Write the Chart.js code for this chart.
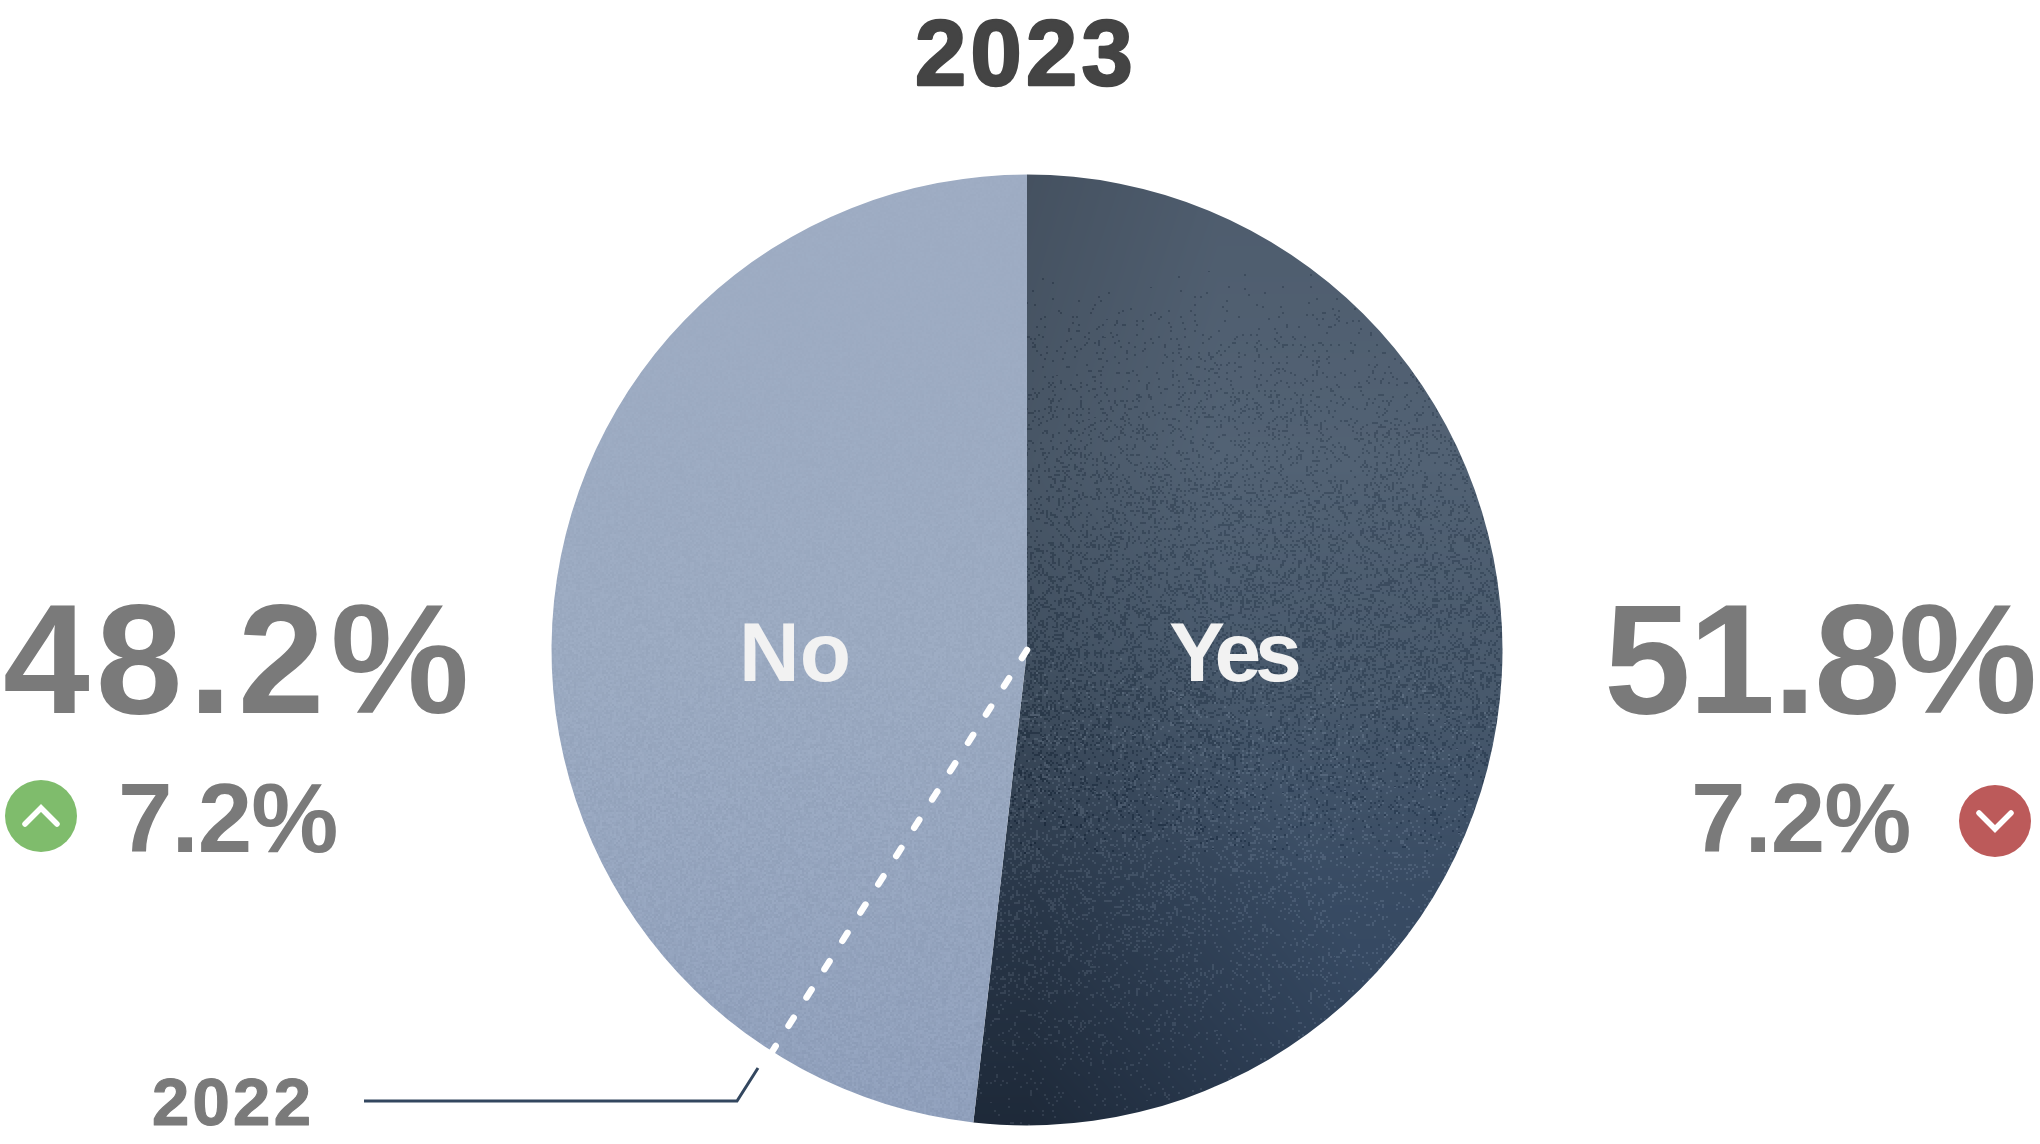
<!DOCTYPE html>
<html lang="en">
<head>
    <meta charset="UTF-8">
    <title>2023 vs 2022</title>
    <script src="https://cdn.jsdelivr.net/npm/chart.js"></script>
    <style>
        body { margin: 0; background: #fff; overflow: hidden; }
        canvas { display: block; }
    </style>
</head>
<body>
    <canvas id="pieChart" width="2040" height="1144"></canvas>

    <script>
        const categories = ["Yes", "No"];
        const values2023 = [51.8, 48.2];
        const yes2022 = 59.0;
        const titleYear = "2023";
        const previousYear = "2022";
        const valueLabels = ["51.8%", "48.2%"];
        const changeLabels = ["7.2%", "7.2%"];

        const FONT = '"Liberation Sans", Arial, sans-serif';
        const W = 2040, H = 1144;
        const TOP = 174.5, DIAM = 951;

        // small repeatable hash, only used for the paper grain of the slices
        function grain(x, y) {
            let n = Math.imul(x, 374761393) + Math.imul(y, 668265263);
            n = Math.imul(n ^ (n >>> 13), 1274126177);
            return ((n ^ (n >>> 16)) >>> 0) / 4294967296;
        }

        function ramp(stops, t) {
            for (let i = 1; i < stops.length; i++) {
                if (t <= stops[i][0]) {
                    const a = stops[i - 1], b = stops[i];
                    const k = (t - a[0]) / (b[0] - a[0]);
                    return [0, 1, 2].map(c => a[1][c] + (b[1][c] - a[1][c]) * k);
                }
            }
            return stops[stops.length - 1][1];
        }

        function clamp(v) { return Math.max(0, Math.min(1, v)); }

        function makeTexture(shade) {
            const c = document.createElement("canvas");
            c.width = W; c.height = H;
            const g = c.getContext("2d");
            const img = g.createImageData(W, H);
            for (let y = 170; y < 1130; y++) {
                for (let x = 540; x < 1520; x++) {
                    const rgb = shade(x, y);
                    const i = (y * W + x) * 4;
                    img.data[i] = rgb[0];
                    img.data[i + 1] = rgb[1];
                    img.data[i + 2] = rgb[2];
                    img.data[i + 3] = 255;
                }
            }
            g.putImageData(img, 0, 0);
            return g.createPattern(c, "no-repeat");
        }

        const yesStops = [
            [0, [78, 92, 109]], [0.3, [82, 98, 116]], [0.55, [72, 89, 108]],
            [0.75, [56, 75, 99]], [1, [49, 68, 94]]
        ];
        const noStops = [
            [0, [158, 172, 195]], [0.5, [155, 170, 193]], [1, [143, 159, 187]]
        ];

        function shadeYes(x, y) {
            const t = clamp((y - TOP) / DIAM);
            const u = clamp((x - 1027) / 476);
            const edge = t < 0.5 ? 0.88 : 0.88 - (t - 0.5) * 0.56;
            const dim = edge + (1 - edge) * clamp(u / (t < 0.5 ? 0.4 : 0.4 + (t - 0.5) * 0.9));
            const base = ramp(yesStops, t);
            const fine = grain(x >> 1, y >> 1);
            const coarse = grain(x >> 3, (y >> 3) + 7000);
            const dark = 0.3 * clamp((t - 0.1) / 0.4) * clamp((0.72 - t) / 0.18);
            const light = 0.22 * clamp((t - 0.5) / 0.2) * clamp((1.02 - t) / 0.3) * (1 - 0.7 * u);
            const spot = fine / (0.4 + 1.2 * coarse);
            let d = 0;
            if (spot < dark) d = -18;
            else if (spot < dark + light) d = 18;
            return base.map(v => v * dim + d);
        }

        function shadeNo(x, y) {
            const t = clamp((y - TOP) / DIAM);
            const base = ramp(noStops, t);
            const amp = 1 + 4 * clamp((t - 0.15) / 0.5);
            const d = (grain(x >> 1, y >> 1) - 0.5) * amp * 2;
            return base.map(v => v + d);
        }

        function text(ctx, str, x, y, size, color, spacing, stroke) {
            ctx.font = "bold " + size + "px " + FONT;
            ctx.fontKerning = "normal";
            ctx.letterSpacing = spacing + "px";
            ctx.fillStyle = color;
            ctx.fillText(str, x, y);
            if (stroke) {
                ctx.strokeStyle = color;
                ctx.lineWidth = stroke;
                ctx.lineJoin = "round";
                ctx.strokeText(str, x, y);
            }
            ctx.letterSpacing = "0px";
        }

        function badge(ctx, x, y, color, pts) {
            ctx.fillStyle = color;
            ctx.beginPath();
            ctx.arc(x, y, 36, 0, Math.PI * 2);
            ctx.fill();
            ctx.strokeStyle = "#fff";
            ctx.lineWidth = 5.5;
            ctx.lineCap = "round";
            ctx.lineJoin = "miter";
            ctx.beginPath();
            ctx.moveTo(x - 16, y + pts);
            ctx.lineTo(x, y - pts);
            ctx.lineTo(x + 16, y + pts);
            ctx.stroke();
        }

        const annotations = {
            id: "annotations",
            afterDatasetsDraw(chart) {
                const ctx = chart.ctx;
                const arc = chart.getDatasetMeta(0).data[0];
                const cx = arc.x, cy = arc.y, r = arc.outerRadius;
                ctx.save();
                ctx.textBaseline = "alphabetic";
                ctx.textAlign = "left";

                // last year's split, dashed from the centre to the rim
                const angle = yes2022 / 100 * Math.PI * 2;
                const ex = cx + Math.sin(angle) * r, ey = cy - Math.cos(angle) * r;
                ctx.strokeStyle = "#fff";
                ctx.lineWidth = 6.5;
                ctx.lineCap = "round";
                ctx.setLineDash([9.5, 24]);
                ctx.beginPath();
                ctx.moveTo(cx, cy);
                ctx.lineTo(ex, ey);
                ctx.stroke();
                ctx.setLineDash([]);

                // leader line to the 2022 label
                ctx.strokeStyle = "#33475f";
                ctx.lineWidth = 3;
                ctx.lineCap = "butt";
                ctx.lineJoin = "miter";
                ctx.beginPath();
                ctx.moveTo(364, 1101);
                ctx.lineTo(737, 1101);
                ctx.lineTo(758, 1068);
                ctx.stroke();

                text(ctx, titleYear, 915, 85, 92, "#444444", 4.3, 2.5);
                text(ctx, previousYear, 152, 1125, 67, "#7a7a7a", 3.3, 1.2);

                text(ctx, valueLabels[1], 3, 713, 156, "#7a7a7a", 6);
                text(ctx, valueLabels[0], 1604, 713, 156, "#7a7a7a", -2.3);
                text(ctx, changeLabels[1], 118, 852, 98, "#7a7a7a", -1);
                text(ctx, changeLabels[0], 1691, 852, 98, "#7a7a7a", -1);

                text(ctx, categories[1], 739, 681, 84, "#f2f2f2", 0);
                text(ctx, categories[0], 1169, 681, 84, "#f2f2f2", -6);

                badge(ctx, 41, 816, "#7fbc6c", 8);
                badge(ctx, 1995, 821, "#bc5a5a", -8);
                ctx.restore();
            }
        };

        new Chart(document.getElementById("pieChart"), {
            type: "pie",
            data: {
                labels: categories,
                datasets: [{
                    data: values2023,
                    backgroundColor: [makeTexture(shadeYes), makeTexture(shadeNo)],
                    borderWidth: 0
                }]
            },
            options: {
                responsive: false,
                devicePixelRatio: 1,
                animation: false,
                events: [],
                layout: { padding: { top: TOP, bottom: H - TOP - DIAM, left: 14, right: 0 } },
                plugins: { legend: { display: false }, tooltip: { enabled: false } }
            },
            plugins: [annotations]
        });
    </script>
</body>
</html>
